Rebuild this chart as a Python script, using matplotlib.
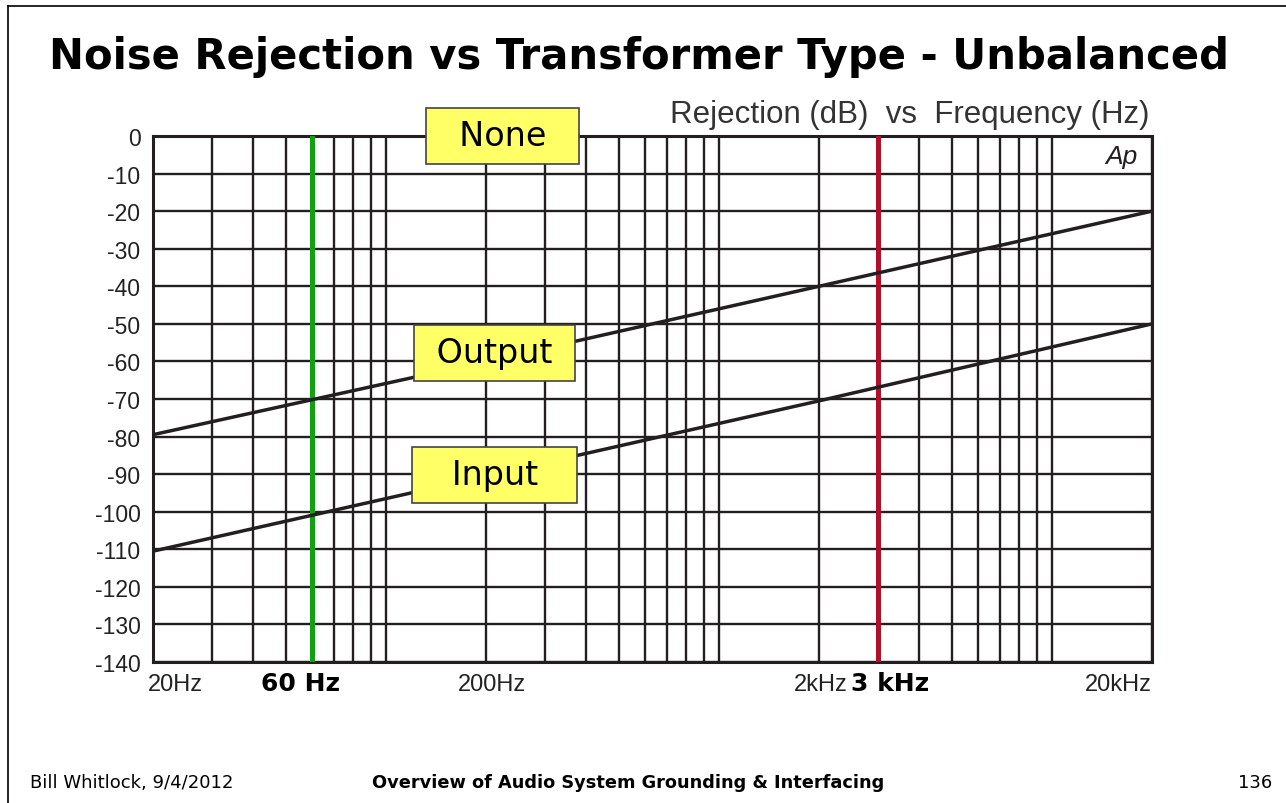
import numpy as np
import matplotlib
matplotlib.use("Agg")
import matplotlib.pyplot as plt
from matplotlib.lines import Line2D

# data
freq_hz = [20, 200, 2000, 20000]
output_db = [-79.5, -60, -40, -20]
input_db = [-110.5, -90.5, -70.5, -50]
marker_freqs = [60, 3000]
marker_labels = ["60 Hz", "3 kHz"]
marker_colors = ["#12a112", "#b0102a"]
y_ticks = list(range(-140, 1, 10))
freq_labels = ["20Hz", "200Hz", "2kHz", "20kHz"]
grid_freqs = [m * 10 ** e for e in range(1, 5) for m in range(1, 10)]
grid_freqs = [f for f in grid_freqs if 20 <= f <= 20000]
box_labels = ["None", "Output", "Input"]

plt.rcParams["axes.unicode_minus"] = False
ink = "#231f20"

fig = plt.figure(figsize=(12.86, 8.04), dpi=100)
ax = fig.add_axes([153 / 1286, 1 - 663 / 804, 999 / 1286, 526 / 804])

ax.set_xscale("log")
ax.set_xlim(20, 20000)
ax.set_ylim(-140, 0)

# grid
for f in grid_freqs:
    ax.axvline(f, color=ink, lw=1.7, zorder=1)
for y in y_ticks:
    ax.axhline(y, color=ink, lw=1.7, zorder=1)

ax.set_xticks([])
ax.set_xticks([], minor=True)
ax.set_yticks(y_ticks)
ax.set_yticklabels([str(v) for v in y_ticks], fontsize=16.5,
                   family="Liberation Sans", color="#222222")
ax.tick_params(axis="y", length=0, pad=9)
for s in ax.spines.values():
    s.set_linewidth(2.2)
    s.set_color(ink)

# marker frequencies
for f, c in zip(marker_freqs, marker_colors):
    ax.axvline(f, color=c, lw=3.6, zorder=3)

# response curves
ax.plot(freq_hz, output_db, color=ink, lw=2.5, zorder=4, solid_capstyle="butt")
ax.plot(freq_hz, input_db, color=ink, lw=2.5, zorder=4, solid_capstyle="butt")

# frequency labels below axis
lab = dict(va="top", fontsize=17, family="Liberation Sans", color="#222222")
ax.text(23.3, -143, freq_labels[0], ha="center", **lab)
ax.text(208, -143, freq_labels[1], ha="center", **lab)
ax.text(2440, -143, freq_labels[2], ha="right", **lab)
ax.text(20000, -143, freq_labels[3], ha="right", **lab)
ax.text(55.6, -142.3, marker_labels[0], ha="center", va="top",
        fontsize=18, fontweight="bold", color="black")
ax.text(3270, -142.3, marker_labels[1], ha="center", va="top",
        fontsize=18, fontweight="bold", color="black")

# label boxes
box_style = dict(boxstyle="square,pad=0.35", fc="#ffff66", ec="#444444", lw=1.2)
ax.text(0.35, 1.0, "  " + box_labels[0] + "  ", transform=ax.transAxes,
        ha="center", va="center", fontsize=24, bbox=box_style, zorder=6)
ax.text(0.342, 0.588, " " + box_labels[1] + " ", transform=ax.transAxes,
        ha="center", va="center", fontsize=24, bbox=box_style, zorder=6)
ax.text(0.342, 0.356, "  \u2009" + box_labels[2] + "\u2009  ", transform=ax.transAxes,
        ha="center", va="center", fontsize=24, bbox=box_style, zorder=6)

# corner logo and axis caption
ax.text(0.986, 0.962, "Ap", transform=ax.transAxes, ha="right", va="center",
        fontsize=19, style="italic", family="Liberation Sans", color=ink)
fig.text(1150 / 1286, 1 - 115 / 804, "Rejection (dB)  vs  Frequency (Hz)",
         ha="right", va="center", fontsize=22.5, family="Liberation Sans",
         color="#333333")

# slide title and footer
fig.text(639 / 1286, 1 - 57 / 804, "Noise Rejection vs Transformer Type - Unbalanced",
         ha="center", va="center", fontsize=30.1, fontweight="bold")
fig.text(30 / 1286, 1 - 783 / 804, "Bill Whitlock, 9/4/2012", ha="left",
         va="center", fontsize=13)
fig.text(628 / 1286, 1 - 783 / 804,
         "Overview of Audio System Grounding & Interfacing", ha="center",
         va="center", fontsize=12.8, fontweight="bold")
fig.text(1272 / 1286, 1 - 783 / 804, "136", ha="right", va="center", fontsize=13)

# slide frame (left and top edges)
fig.add_artist(Line2D([8 / 1286, 8 / 1286], [0, 1 - 7 / 804], color="black",
                      lw=1.2, transform=fig.transFigure))
fig.add_artist(Line2D([8 / 1286, 1], [1 - 7 / 804, 1 - 7 / 804], color="black",
                      lw=1.2, transform=fig.transFigure))

fig.savefig("out.png", dpi=100)
